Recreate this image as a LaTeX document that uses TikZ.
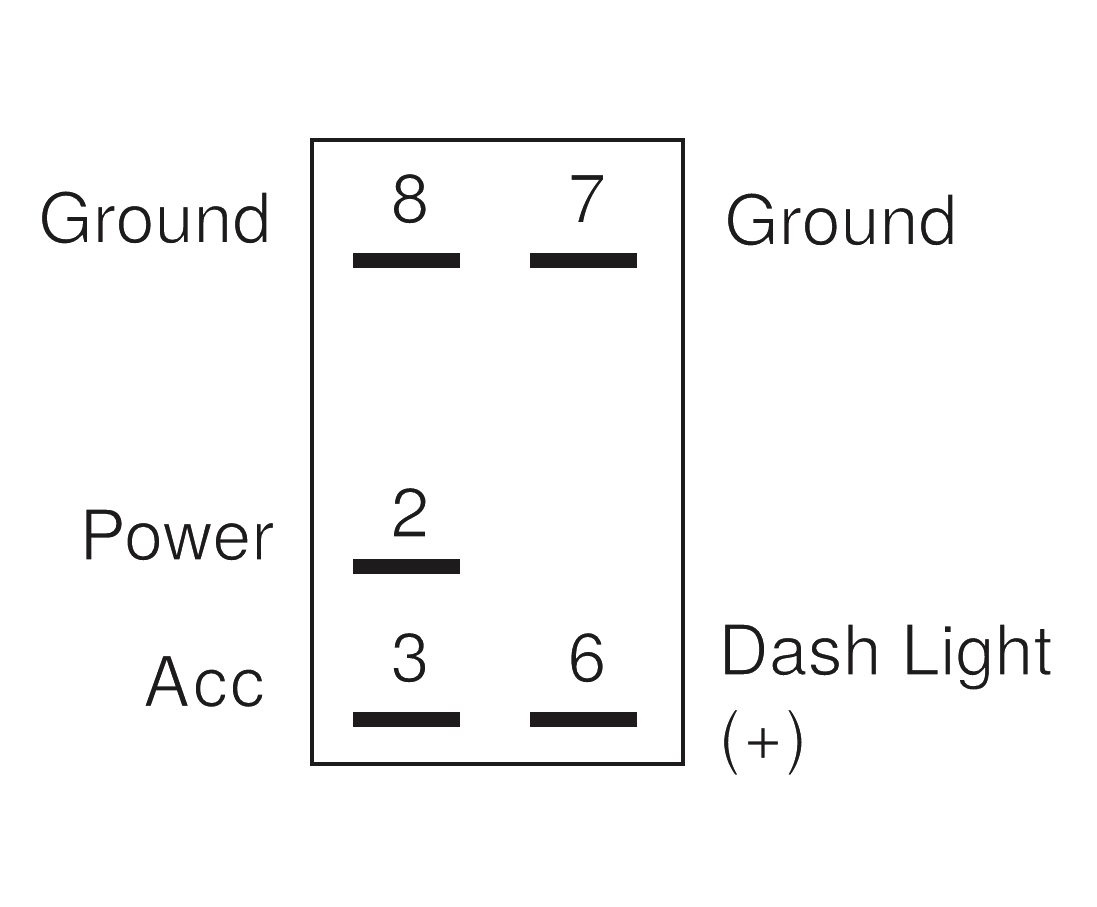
\documentclass[tikz,border=0pt]{standalone}
\usepackage{fontspec}
\setmainfont{TeX Gyre Heros}
\definecolor{ink}{HTML}{1E1B1C}
\newcommand{\lighttext}[1]{\special{pdf:code q 2 Tr 1.5 w 1 1 1 RG}#1\special{pdf:code Q}}
\tikzset{
  px/.style={x=1pt,y=-1pt},
  label/.style={inner sep=0pt,text=ink,font=\fontsize{70}{70}\selectfont,anchor=base west},
  num/.style={inner sep=0pt,text=ink,font=\fontsize{70}{70}\selectfont,anchor=base},
  pin/.style={fill=ink,draw=none,minimum width=107pt,minimum height=15pt,inner sep=0pt},
  housing/.style={draw=ink,line width=3.2pt,fill=none,minimum width=371pt,minimum height=624pt,inner sep=0pt}
}
\begin{document}
\begin{tikzpicture}[px]
\useasboundingbox[fill=white] (0,0) rectangle (1097,907);
\node[housing] (box) at (497.5,452) {};
\node[pin] (p8) at (406,260.5) {};
\node[pin] (p7) at (583.5,260.5) {};
\node[pin] (p2) at (406,566) {};
\node[pin] (p3) at (406,719) {};
\node[pin] (p6) at (583.5,719) {};
\node[num] (n8) at (410,223) {\lighttext{8}};
\node[num] (n7) at (587,223) {\lighttext{7}};
\node[num] (n2) at (410,537) {\lighttext{2}};
\node[num] (n3) at (410,682) {\lighttext{3}};
\node[num] (n6) at (587,682) {\lighttext{6}};
\node[label] (g1) at (38,243) {\lighttext{Ground}};
\node[label] (g2) at (724,245) {\lighttext{Ground}};
\node[label] (pw) at (79,560) {\lighttext{Power}};
\node[label] (ac) at (143,706.5) {\lighttext{A\kern3pt c\kern2pt c}};
\node[label] (dl) at (718,675) {\lighttext{Dash Light}};
\node[label] (pl) at (718,760.5) {\lighttext{(\kern1pt+\kern1pt)}};
\end{tikzpicture}
\end{document}
